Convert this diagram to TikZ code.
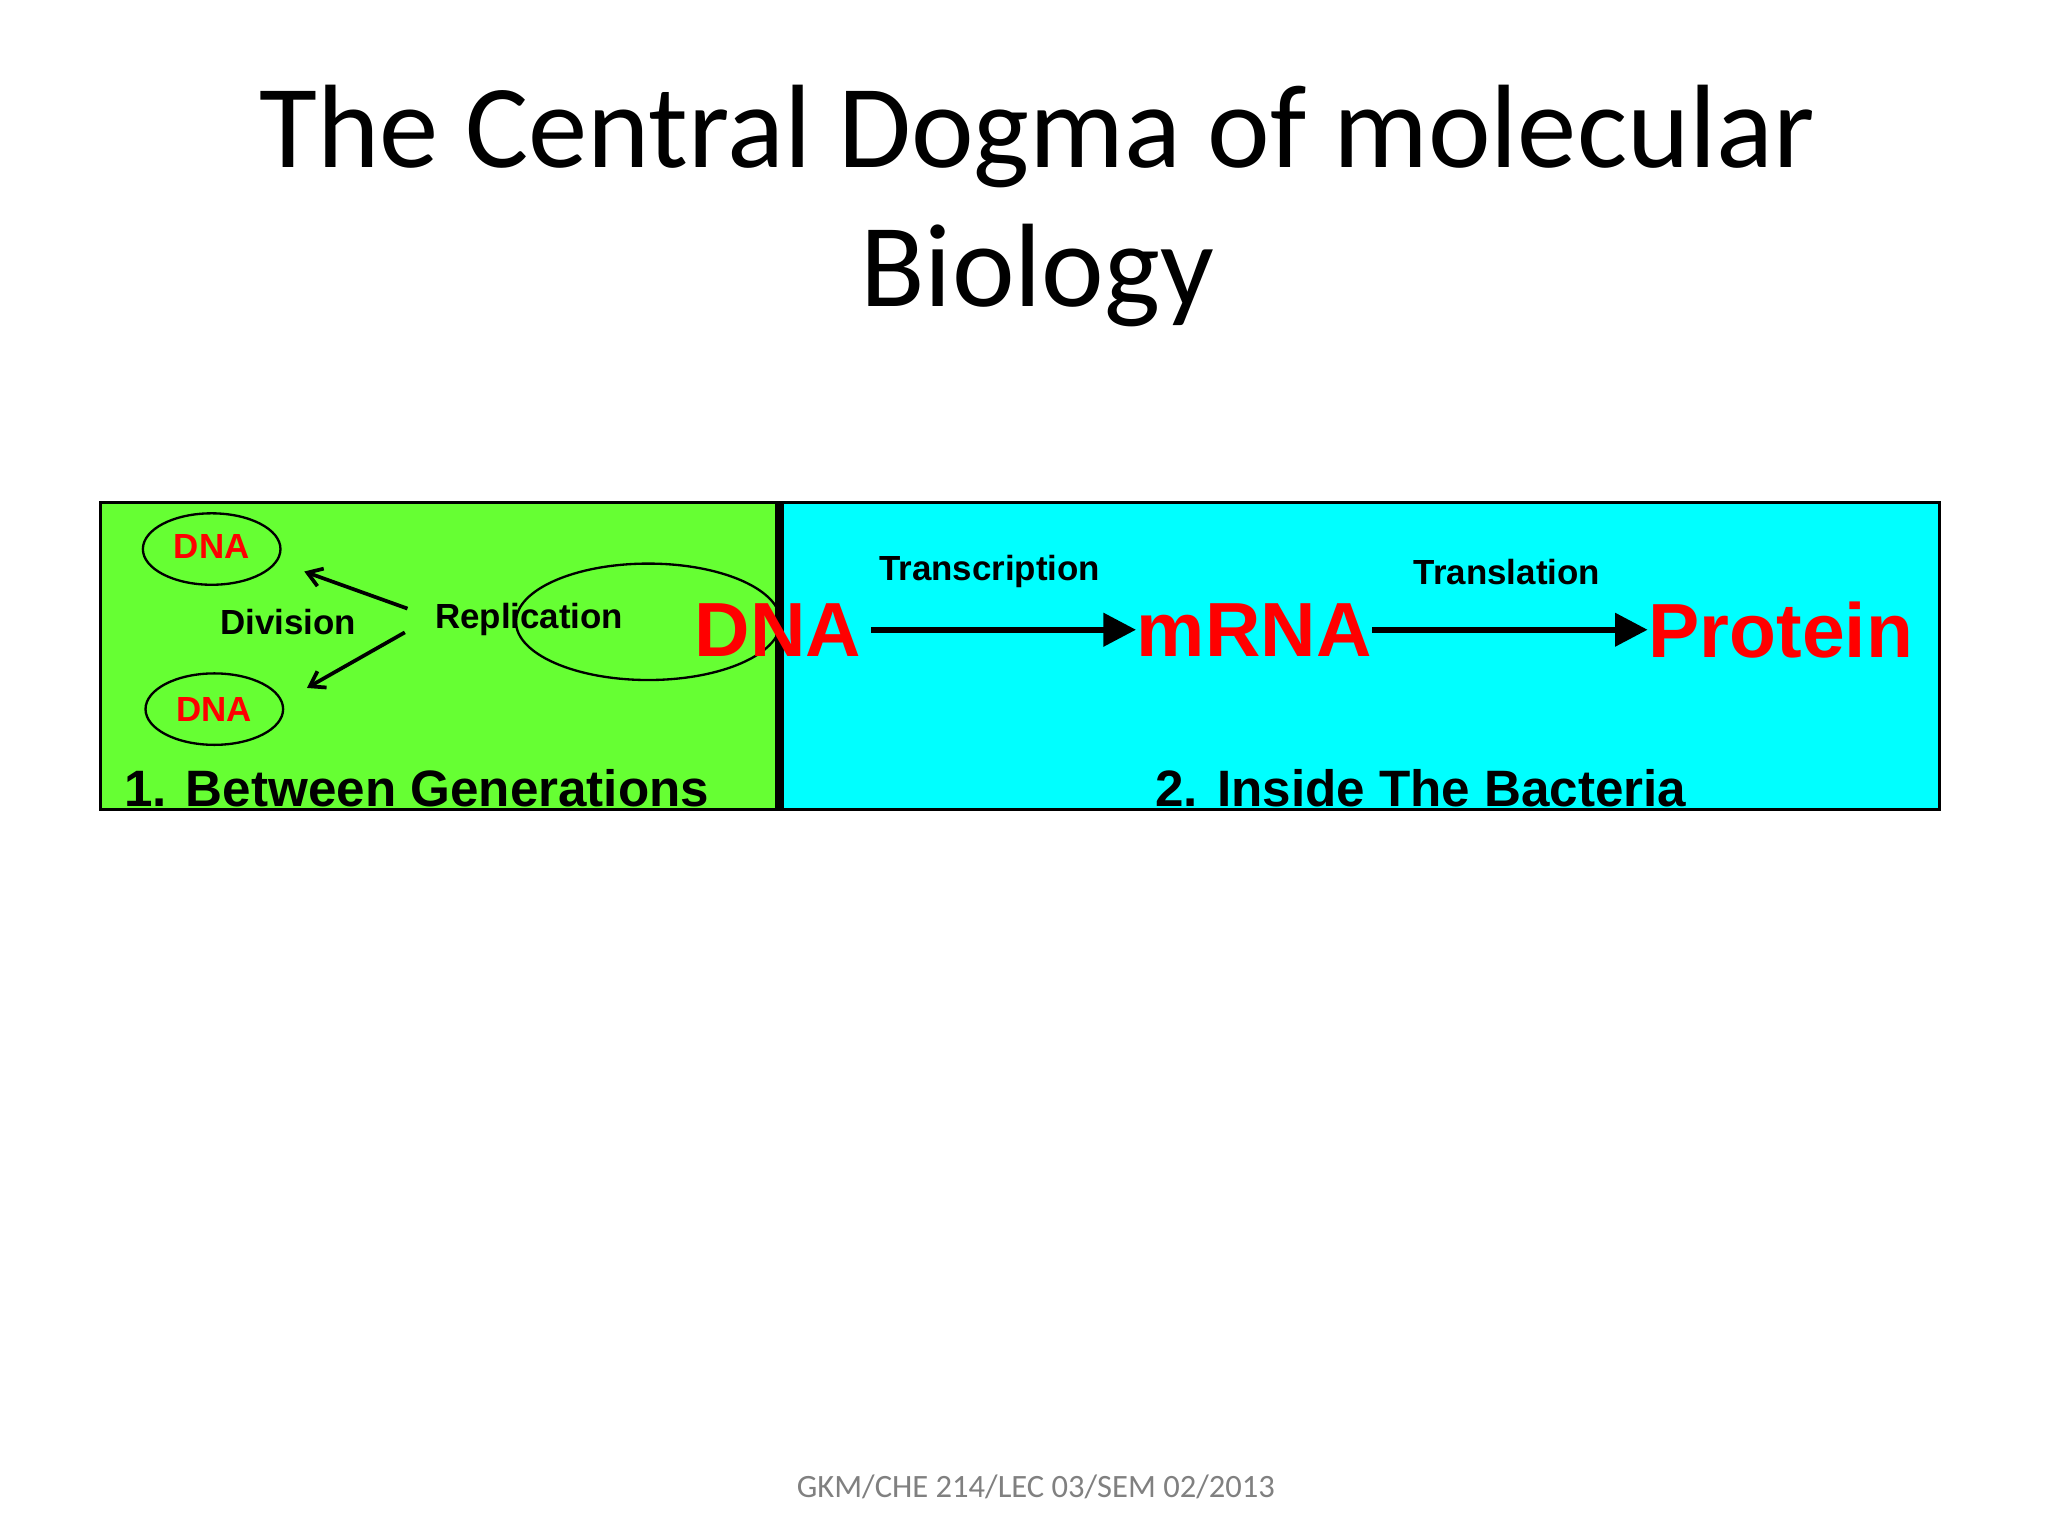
\documentclass[tikz,border=0pt]{standalone}
\usepackage{fontspec}
\setmainfont{Carlito}
\newfontfamily\arialb{Liberation Sans Bold}
\usetikzlibrary{arrows.meta}
\definecolor{pgreen}{RGB}{102,255,51}
\definecolor{pcyan}{RGB}{0,255,255}
\definecolor{pred}{RGB}{255,0,0}
\begin{document}
\begin{tikzpicture}[x=0.01cm,y=-0.01cm,
  lbl/.style={font=\arialb\fontsize{7.5}{9}\selectfont,inner sep=1pt},
  big/.style={font=\arialb\fontsize{16.5}{20}\selectfont,text=pred,inner sep=0pt},
  arr/.style={line width=1.2pt,-{Triangle[length=7pt,width=7pt]}},
  thin/.style={line width=0.8pt,-{Straight Barb[length=3pt,width=4pt]}}]
\useasboundingbox (0,0) rectangle (1548,1161);
\node (t) at (784,158) {\fontsize{25.5}{30}\selectfont\begin{tabular}{c}The Central Dogma of molecular\\Biology\end{tabular}};
\fill[pgreen] (76,380) rectangle (589,612);
\fill[pcyan] (589,380) rectangle (1466,612);
\draw[line width=0.6pt] (76,380) rectangle (1466,612);
\draw[line width=2pt] (589,380) -- (589,612);
\draw[line width=0.5pt] (160,415) ellipse (52 and 27);
\draw[line width=0.5pt] (162,536) ellipse (52 and 27);
\draw[line width=0.5pt] (490,470) ellipse (100 and 44);
\node[lbl,text=pred] (d1) at (160,413) {DNA};
\node[lbl,text=pred] (d2) at (162,536) {DNA};
\node[lbl] (div) at (218,470) {Division};
\node[lbl] (rep) at (400,468) {Replication};
\coordinate (rs) at (308,460);
\coordinate (rs2) at (306,478);
\coordinate (e1) at (230,432);
\coordinate (e2) at (232,520);
\draw[thin] (rs) -- (e1);
\draw[thin] (rs2) -- (e2);
\node[big] (dna) at (588,476) {DNA};
\node[big] (mrna) at (948,476) {mRNA};
\node[big] (prot) at (1346,476) {Protein};
\draw[arr] (dna.east) ++(2pt,0) -- (mrna.west);
\draw[arr] (mrna.east) -- (prot.west);
\node[lbl] (tc) at (748,432) {Transcription};
\node[lbl] (tl) at (1139,432) {Translation};
\node[font=\arialb\fontsize{11}{13}\selectfont,inner sep=0pt] (g1) at (315,596) {1. Between Generations};
\node[font=\arialb\fontsize{11}{13}\selectfont,inner sep=0pt] (g2) at (1074,596) {2. Inside The Bacteria};
\node[text=gray,font=\fontsize{7}{8}\selectfont] (f) at (783,1124) {GKM/CHE 214/LEC 03/SEM 02/2013};
\end{tikzpicture}
\end{document}
